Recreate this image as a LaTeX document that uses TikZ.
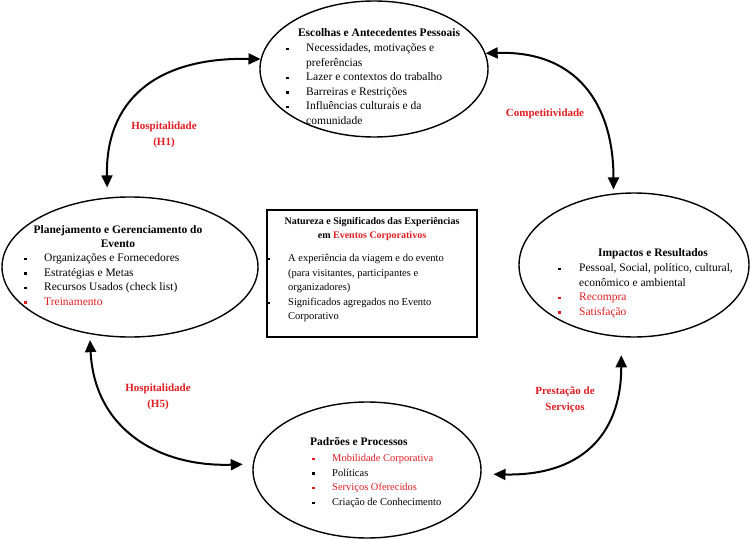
\documentclass[tikz,border=0pt]{standalone}
\usepackage{fontspec}
\setmainfont{Liberation Serif}
\usetikzlibrary{positioning,arrows.meta,shapes.geometric}
\definecolor{hotred}{RGB}{226,28,33}
\newcommand{\bul}{\rule[0.3ex]{2.3pt}{2.3pt}}
\newcommand{\rbul}{\textcolor{hotred}{\bul}}

\begin{document}
\begin{tikzpicture}[x=1pt,y=-1pt,
			bubble/.style={draw,ellipse,line width=1.4pt,inner sep=0pt},
			frame/.style={draw,line width=1.4pt,inner sep=0pt},
			txt/.style={inner sep=0pt,font=\fontsize{11.5}{14.6}\selectfont},
			smalltxt/.style={inner sep=0pt,font=\fontsize{10.5}{14.6}\selectfont},
			head/.style={inner sep=0pt,align=center,font=\fontsize{11.5}{14.6}\selectfont\bfseries},
			lbl/.style={inner sep=0pt,align=center,text=hotred,font=\fontsize{11}{15.5}\selectfont\bfseries},
			conn/.style={line width=2pt,{Triangle[length=12pt,width=11pt]}-{Triangle[length=12pt,width=11pt]}}]
			
			\useasboundingbox (0,0) rectangle (750,540);
			
			\node[bubble,minimum width=228pt,minimum height=136pt] (esc) at (374,69){};
			
			\node[bubble,minimum width=256pt,minimum height=140pt] (plan) at (130,267){};
			
			\node[bubble,minimum width=230pt,minimum height=144pt] (imp) at (634,265){};
			
			\node[bubble,minimum width=228pt,minimum height=136pt] (pad) at (367,470){};
			
			\node[frame,minimum width=210pt,minimum height=127pt] (nat) at (372,273.5){};
			
			% textos
			\node[head,anchor=base] (esctitle) at (379,36.5){Escolhas e Antecedentes Pessoais};
			\node[txt,anchor=base west] (escitems) at (286,51.5){\begin{tabular}[t]{@{}p{20pt}@{}l@{}}
					\bul & Necessidades, motivações e\\
					& preferências\\
					\bul & Lazer e contextos do trabalho\\
					\bul & Barreiras e Restrições\\
					\bul & Influências culturais e da\\
					& comunidade
				\end{tabular}};
			
			\node[head] (plantitle) at (118,236.5){Planejamento e Gerenciamento do\\Evento};
			\node[txt,anchor=base west] (planitems) at (24,261.5){\begin{tabular}[t]{@{}p{20pt}@{}l@{}}
					\bul & Organizações e Fornecedores\\
					\bul & Estratégias e Metas\\
					\bul & Recursos Usados (check list)\\
					\rbul & \textcolor{hotred}{Treinamento}
				\end{tabular}};
			
			\node[head,font=\fontsize{10}{14}\selectfont\bfseries] (nattitle) at (372,229.5){Natureza e Significados das Experiências\\em \textcolor{hotred}{Eventos Corporativos}};
			\node[smalltxt,anchor=base west] (natitems) at (267,261.5){\begin{tabular}[t]{@{}p{21pt}@{}l@{}}
					\bul & A experiência da viagem e do evento\\
					& (para visitantes, participantes e\\
					& organizadores)\\
					\bul & Significados agregados no Evento\\
					& Corporativo
				\end{tabular}};
			
			\node[head,anchor=base] (imptitle) at (653,256.5){Impactos e Resultados};
			\node[txt,anchor=base west] (impitems) at (558,271.5){\begin{tabular}[t]{@{}p{21pt}@{}l@{}}
					\bul & Pessoal, Social, político, cultural,\\
					& econômico e ambiental\\
					\rbul & \textcolor{hotred}{Recompra}\\
					\rbul & \textcolor{hotred}{Satisfação}
				\end{tabular}};
			
			\node[head,anchor=base west] (padtitle) at (310,445.5){Padrões e Processos};
			\node[smalltxt,anchor=base west] (paditems) at (312,461.5){\begin{tabular}[t]{@{}p{20pt}@{}l@{}}
					\rbul & \textcolor{hotred}{Mobilidade Corporativa}\\
					\bul & Políticas\\
					\rbul & \textcolor{hotred}{Serviços Oferecidos}\\
					\bul & Criação de Conhecimento
				\end{tabular}};
			
			% rotulos
			\node[lbl] (h1) at (164,135){Hospitalidade\\(H1)};
			\node[lbl] (comp) at (545,114){Competitividade};
			\node[lbl] (h5) at (158,397){Hospitalidade\\(H5)};
			\node[lbl] (prest) at (565,400){Prestação de\\Serviços};
			
			% setas
			\draw[conn,shorten >=10pt](esc.175) .. controls +(-107,-2) and +(-2,-95) .. (plan.108);
			
			\draw[conn,shorten >=4pt](esc.8) .. controls +(92,-3) and +(0,-88) .. (imp.106);
			
			\draw[conn,shorten <=6pt,shorten >=10pt](plan.239) .. controls +(5,96) and +(-93,3) .. (pad.177);
			
			\draw[conn,shorten <=18pt,shorten >=12pt](imp.260) .. controls +(0,100) and +(97,2) .. (pad.358);
			
		\end{tikzpicture}
\end{document}
